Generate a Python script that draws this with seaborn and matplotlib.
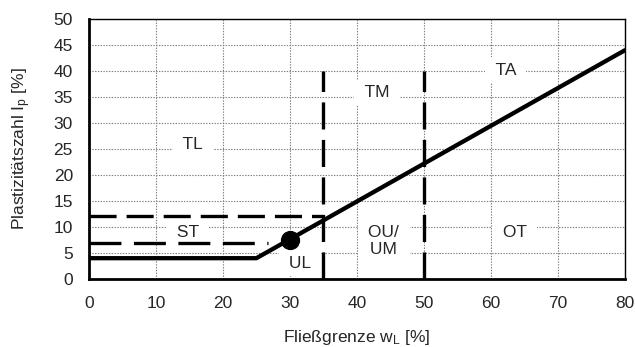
import matplotlib
matplotlib.use("Agg")
import matplotlib.pyplot as plt
import seaborn as sns
import pandas as pd

# A-line (Plastizitätsgrenze)
aline_x = [0, 25, 80]
aline_y = [4, 4, 44]
# dashed boundary lines
h12_x = [0, 35]; h12_y = [12.2, 12.2]
h7_x = [0, 26.7]; h7_y = [7, 7]
v35_x = [35, 35]; v35_y = [0, 40]
v50_x = [50, 50]; v50_y = [0, 40]
# point
pt_x = [30]; pt_y = [7.5]
# region labels
lab_text = ["TA", "TM", "TL", "ST", "UL", "OU/\nUM", "OT"]
lab_x = [62.2, 43.0, 15.5, 14.8, 31.5, 44.0, 63.5]
lab_y = [40.2, 35.8, 25.8, 9.0, 3.0, 7.3, 9.0]
xticks = list(range(0, 81, 10))
yticks = list(range(0, 51, 5))

sns.set_style("white")
plt.rcParams['font.family'] = ['Liberation Sans', 'DejaVu Sans']
plt.rcParams['mathtext.fontset'] = 'custom'
plt.rcParams['mathtext.rm'] = 'Liberation Sans'
plt.rcParams['mathtext.it'] = 'Liberation Sans'
plt.rcParams['lines.scale_dashes'] = False

fig = plt.figure(figsize=(6.35, 3.47), dpi=100)
ax = fig.add_axes([0.140, 0.196, 0.844, 0.749])

ax.grid(True, color='#808080', linestyle=(0, (1, 1)), linewidth=0.8)
ax.set_axisbelow(True)

for xs, ys, ds in [(h12_x, h12_y, (0, (19.5, 7.2))), (h7_x, h7_y, (0, (23, 9))),
                   (v35_x, v35_y, (0, (19.5, 7.5))), (v50_x, v50_y, (0, (19.5, 7.5)))]:
    ax.plot(xs, ys, color='black', linewidth=2.4, linestyle=ds, zorder=3)

sns.lineplot(x=aline_x, y=aline_y, ax=ax, color='black', linewidth=3.1, zorder=4)
sns.scatterplot(x=pt_x, y=pt_y, ax=ax, color='black', s=165, edgecolor='black', zorder=5)

for t, x, y in zip(lab_text, lab_x, lab_y):
    padded = "\n".join(" " + line + " " for line in t.split("\n"))
    ax.text(x, y, padded, ha='center', va='center', fontsize=12.5, linespacing=1.15,
            bbox=dict(facecolor='white', edgecolor='none', pad=4), zorder=2)

ax.set_xlim(0, 80)
ax.set_ylim(0, 50)
ax.set_xticks(xticks)
ax.set_yticks(yticks)
ax.tick_params(axis='both', labelsize=12.5, length=4.5, width=1.2, direction='out', color='black')
ax.tick_params(axis='x', pad=8)
ax.tick_params(axis='y', pad=7)

for s in ['left', 'bottom']:
    ax.spines[s].set_linewidth(2.0)
    ax.spines[s].set_color('black')
for s in ['top', 'right']:
    ax.spines[s].set_linewidth(1.0)
    ax.spines[s].set_color('black')

ax.set_xlabel(r"Fließgrenze w$_\mathrm{L}$ [%]", fontsize=12.5, labelpad=12)
ax.set_ylabel(r"Plastizitätszahl I$_\mathrm{p}$ [%]", fontsize=12.5, labelpad=15)

fig.savefig("out.png", dpi=100)
